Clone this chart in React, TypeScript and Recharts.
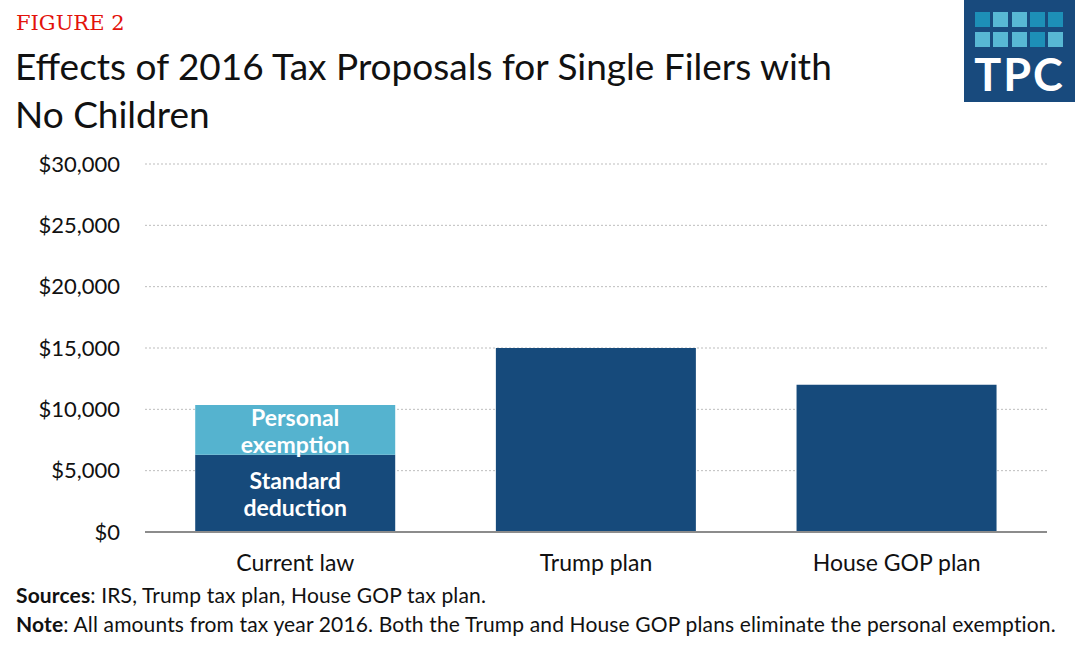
import React from 'react'
import { BarChart, Bar, XAxis, YAxis, CartesianGrid, LabelList } from 'recharts'

const categories = ['Current law', 'Trump plan', 'House GOP plan']
const standardDeduction = [6300, 15000, 12000]
const personalExemption = [4050, 0, 0]
const yTicks = [0, 5000, 10000, 15000, 20000, 25000, 30000]
const segmentLabels = { standard: ['Standard', 'deduction'], personal: ['Personal', 'exemption'] }

const data = categories.map((name, i) => ({
  name,
  standard: standardDeduction[i],
  personal: personalExemption[i],
}))

const DARK = '#164a7b'
const LIGHT = '#55b3cf'
const FONT = 'Lato, "Open Sans", sans-serif'

const fmt = (v: number) => '$' + v.toLocaleString('en-US')

function segmentLabel(lines: string[]) {
  return (props: any) => {
    const { x, y, width, height, index } = props
    if (index !== 0) return null
    const cx = x + width / 2
    const cy = y + height / 2
    return (
      <text textAnchor="middle" fill="#fff" fontFamily={FONT} fontWeight={700} fontSize={23} dominantBaseline="central">
        <tspan x={cx} y={cy - 13}>{lines[0]}</tspan>
        <tspan x={cx} y={cy + 14}>{lines[1]}</tspan>
      </text>
    )
  }
}

const logoTop = ['#1d8fb7', '#58b8d4', '#58b8d4', '#1d8fb7', '#1d8fb7']
const logoBottom = ['#58b8d4', '#58b8d4', '#58b8d4', '#1d8fb7', '#58b8d4']

function Logo() {
  return (
    <div style={{ position: 'absolute', left: 964, top: 0, width: 111, height: 102, background: '#184a7d' }}>
      {[logoTop, logoBottom].map((row, r) =>
        row.map((c, i) => (
          <div
            key={r + '-' + i}
            style={{ position: 'absolute', left: 11 + i * 18.3, top: 12 + r * 20, width: 15, height: 15, background: c }}
          />
        ))
      )}
      <div
        style={{
          position: 'absolute', left: 0, width: 111, top: 52, textAlign: 'center', color: '#fff',
          fontFamily: FONT, fontWeight: 700, fontSize: 45, lineHeight: '45px', letterSpacing: 2,
        }}
      >
        TPC
      </div>
    </div>
  )
}

export default function App() {
  return (
    <div style={{ position: 'absolute', left: 0, top: 0, width: 1076, height: 653, background: '#fff', overflow: 'hidden' }}>
      <div style={{ position: 'absolute', left: 16, top: 11, fontFamily: '"DejaVu Serif", serif', fontSize: 21, color: '#e3120b', lineHeight: '24px' }}>
        FIGURE 2
      </div>
      <div style={{ position: 'absolute', left: 15, top: 42, fontFamily: FONT, fontSize: 37, color: '#111', lineHeight: '48px', width: 940 }}>
        Effects of 2016 Tax Proposals for Single Filers with
        <br />
        No Children
      </div>
      <Logo />
      <div style={{ position: 'absolute', left: 0, top: 0 }}>
        <BarChart width={1076} height={653} data={data} margin={{ top: 164, right: 29, bottom: 91, left: 20 }} barCategoryGap="16.7%">
          <CartesianGrid vertical={false} stroke="#bdbdbd" strokeDasharray="2 2" />
          <XAxis
            dataKey="name"
            height={30}
            tickLine={false}
            tickSize={0}
            tickMargin={23}
            axisLine={{ stroke: '#8c8c8c', strokeWidth: 2 }}
            tick={{ fill: '#111', fontSize: 23, fontFamily: FONT }}
          />
          <YAxis
            width={125}
            domain={[0, 30000]}
            ticks={yTicks}
            tickFormatter={fmt}
            axisLine={false}
            tickLine={false}
            tickSize={0}
            tickMargin={25}
            tick={{ fill: '#111', fontSize: 22, fontFamily: FONT }}
          />
          <Bar dataKey="standard" stackId="a" fill={DARK} isAnimationActive={false}>
            <LabelList dataKey="standard" content={segmentLabel(segmentLabels.standard)} />
          </Bar>
          <Bar dataKey="personal" stackId="a" fill={LIGHT} isAnimationActive={false}>
            <LabelList dataKey="personal" content={segmentLabel(segmentLabels.personal)} />
          </Bar>
        </BarChart>
      </div>
      <div style={{ position: 'absolute', left: 16, top: 580, fontFamily: FONT, fontSize: 21, color: '#111', lineHeight: '29px', whiteSpace: 'nowrap', letterSpacing: 0.15 }}>
        <div><span style={{ fontWeight: 700 }}>Sources</span>: IRS, Trump tax plan, House GOP tax plan.</div>
        <div><span style={{ fontWeight: 700 }}>Note</span>: All amounts from tax year 2016. Both the Trump and House GOP plans eliminate the personal exemption.</div>
      </div>
    </div>
  )
}
